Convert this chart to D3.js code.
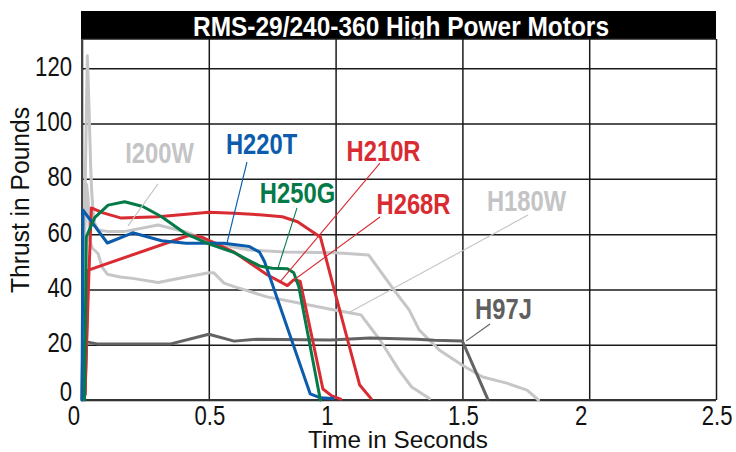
<!DOCTYPE html>
<html>
<head>
<meta charset="utf-8">
<script src="https://cdn.jsdelivr.net/npm/d3@7"></script>
<style>
  body { margin: 0; background: #fff; }
  svg { display: block; }
  text { font-family: "Liberation Sans", Arial, sans-serif; }
</style>
</head>
<body>
<div id="chart"></div>
<script>
// ticks
var xTicks = [0, 0.5, 1, 1.5, 2, 2.5];
var yTicks = [0, 20, 40, 60, 80, 100, 120];

// thrust curves, [seconds, pounds]
var i200w = [[0,0],[0.005,20],[0.013,80],[0.021,124.5],[0.028,105],[0.034,85],[0.038,76],[0.043,69],[0.05,64],
  [0.063,61.5],[0.1,61],[0.17,61],[0.3,63.3],[0.41,60.8],[0.5,57.5],[0.56,56],[0.66,54.3],[0.8,53.5],[1.0,53.3],
  [1.13,52.5],[1.23,39.8],[1.29,32.6],[1.33,25.3],[1.41,18],[1.5,12.6],[1.58,8.3],[1.675,6.1],[1.755,3.6],[1.8,0]];
var h180w = [[0,0],[0.01,60],[0.018,78],[0.024,73],[0.03,58],[0.04,55],[0.063,53],[0.08,48],[0.1,45.5],[0.15,44.5],
  [0.2,44],[0.3,42.5],[0.4,44.3],[0.5,46],[0.52,46],[0.56,42.3],[0.6,41],[0.73,37.3],[0.86,35],[1.0,32.5],[1.06,31.5],
  [1.1,30.8],[1.175,21.7],[1.25,10.8],[1.3,4.7],[1.37,0.5]];
var h97j = [[0,0],[0.003,21.3],[0.06,20.3],[0.35,20.3],[0.5,23.8],[0.6,21.3],[0.69,22],[0.98,21.7],[1.135,22.4],
  [1.32,22],[1.39,21.6],[1.5,21.3],[1.6,0.3]];
var h268r = [[0.012,2],[0.025,47],[0.42,59.5],[0.47,59],[0.6,53.5],[0.73,45.3],[0.81,41.4],[0.835,43.5],[0.86,43],
  [0.95,4],[0.985,1.5],[1.02,0.3]];
var h210r = [[0.012,2],[0.025,40],[0.037,69.5],[0.083,67.7],[0.155,65.8],[0.3,66.3],[0.5,67.9],[0.6,67.6],[0.7,67],
  [0.79,66.3],[0.85,64.5],[0.91,60.8],[0.94,59],[1.0,38],[1.095,5.4],[1.14,0.5]];
var h220t = [[0,0],[0.004,68.7],[0.1,56.8],[0.2,60.5],[0.314,57.6],[0.41,56.7],[0.56,56.7],[0.66,55.5],[0.7,53.5],
  [0.72,50],[0.9,2.2],[0.94,0.8],[0.99,0.5]];
var h250g = [[0.01,0],[0.017,59],[0.05,66],[0.103,70.5],[0.168,71.7],[0.24,70],[0.314,66.3],[0.406,60.3],[0.5,56.5],
  [0.6,53.3],[0.7,48.5],[0.75,47.7],[0.81,47.5],[0.835,46],[0.855,41],[0.94,0]];

var motors = [
  {name: 'I200W', data: i200w, color: '#c6c6c8'},
  {name: 'H180W', data: h180w, color: '#c6c6c8'},
  {name: 'H97J',  data: h97j,  color: '#636363'},
  {name: 'H268R', data: h268r, color: '#d92b32'},
  {name: 'H210R', data: h210r, color: '#d92b32'},
  {name: 'H220T', data: h220t, color: '#0b5cad'},
  {name: 'H250G', data: h250g, color: '#047a48'}
];

// name labels: label centre and leader line, in data units
var notes = [
  {name: 'I200W', at: [0.3056, 89.5], from: [0.2997, 78.2], to: [0.1814, 63.0], color: '#c4c4c6'},
  {name: 'H220T', at: [0.708, 92.8],  from: [0.6506, 86.1], to: [0.5718, 56.8], color: '#0b5cad'},
  {name: 'H210R', at: [1.189, 90.1],  from: [1.175, 85.7],  to: [0.7808, 42.7], color: '#d92b32'},
  {name: 'H250G', at: [0.8498, 75.1], from: [0.8478, 69.5], to: [0.7729, 47.8], color: '#047a48'},
  {name: 'H268R', at: [1.3072, 70.9], from: [1.1751, 66.2], to: [0.8084, 41.6], color: '#d92b32'},
  {name: 'H180W', at: [1.7528, 72.2], from: [1.7587, 66.9], to: [1.0568, 31.8], color: '#c4c4c6'},
  {name: 'H97J',  at: [1.662, 33.1],  from: [1.6088, 27.5], to: [1.5142, 21.3], color: '#5f5f5f'}
];

var width = 736;
var height = 452;
var plotL = 82, plotR = 716, plotT = 39, plotB = 400;
var squeeze = 0.82; // condensed look from Liberation Sans

var svg = d3.select('#chart')
  .append('svg')
  .attr('width', width)
  .attr('height', height);

var x = d3.scaleLinear().domain([0, 2.5]).range([plotL, plotR]);
var y = d3.scaleLinear().domain([0, 120]).range([plotB, 68.3]);

function narrowText(g, px, py, str) {
  return g.append('text')
    .attr('transform', 'translate(' + px + ',' + py + ') scale(' + squeeze + ',1)')
    .text(str);
}

// title bar
svg.append('rect')
  .attr('x', plotL - 1).attr('y', 11)
  .attr('width', plotR - plotL + 1).attr('height', plotT - 11)
  .attr('fill', '#000');
svg.append('text')
  .attr('x', (plotL + plotR) / 2 + 2)
  .attr('y', 35.5)
  .attr('text-anchor', 'middle')
  .attr('fill', '#fff')
  .attr('font-weight', 'bold')
  .attr('font-size', 28)
  .attr('textLength', 416)
  .attr('lengthAdjust', 'spacingAndGlyphs')
  .text('RMS-29/240-360 High Power Motors');

// y axis with grid
var yAxis = svg.append('g')
  .attr('transform', 'translate(' + plotL + ',0)')
  .call(d3.axisLeft(y).tickValues(yTicks).tickSize(-(plotR - plotL)).tickFormat(''));
yAxis.select('.domain').remove();
yAxis.selectAll('line')
  .attr('stroke', '#1a1a1a')
  .attr('stroke-width', 1.5);
yAxis.selectAll('.tick').each(function(d) {
  narrowText(d3.select(this), -10, d === 0 ? 0 : 7, String(d))
    .attr('text-anchor', 'end')
    .attr('font-size', 27)
    .attr('fill', '#111');
});

// x axis with grid, labels lined up on the decimal point
var xAxis = svg.append('g')
  .attr('transform', 'translate(0,' + plotB + ')')
  .call(d3.axisBottom(x).tickValues(xTicks).tickSize(-(plotB - plotT)).tickFormat(''));
xAxis.select('.domain').remove();
xAxis.selectAll('line')
  .attr('stroke', '#1a1a1a')
  .attr('stroke-width', 1.5);
xAxis.selectAll('.tick').each(function(d) {
  var g = d3.select(this);
  var intPart = String(d).split('.')[0];
  var t = narrowText(g, 0, 25, intPart)
    .attr('text-anchor', 'start')
    .attr('font-size', 27)
    .attr('fill', '#111');
  var w = t.node().getComputedTextLength() * squeeze;
  t.attr('transform', 'translate(' + (-2.5 - w) + ',25) scale(' + squeeze + ',1)')
    .text(String(d));
});

// frame
svg.append('line')
  .attr('x1', plotL).attr('x2', plotR).attr('y1', plotT).attr('y2', plotT)
  .attr('stroke', '#1a1a1a').attr('stroke-width', 1.5);
svg.append('line')
  .attr('x1', plotL).attr('x2', plotR).attr('y1', plotB).attr('y2', plotB)
  .attr('stroke', '#333').attr('stroke-width', 2);
svg.append('line')
  .attr('x1', plotL).attr('x2', plotL).attr('y1', plotT).attr('y2', plotB)
  .attr('stroke', '#444').attr('stroke-width', 2);

// axis titles
svg.append('text')
  .attr('x', 398).attr('y', 448)
  .attr('text-anchor', 'middle')
  .attr('font-size', 24)
  .attr('fill', '#111')
  .attr('textLength', 180)
  .attr('lengthAdjust', 'spacingAndGlyphs')
  .text('Time in Seconds');
svg.append('text')
  .attr('transform', 'translate(29,200) rotate(-90)')
  .attr('text-anchor', 'middle')
  .attr('font-size', 25)
  .attr('fill', '#111')
  .attr('textLength', 186)
  .attr('lengthAdjust', 'spacingAndGlyphs')
  .text('Thrust in Pounds');

// curves
var line = d3.line()
  .x((d) => x(d[0]))
  .y((d) => y(d[1]));

svg.append('g')
  .selectAll('path')
  .data(motors)
  .enter()
  .append('path')
  .attr('d', (d) => line(d.data))
  .attr('fill', 'none')
  .attr('stroke', (d) => d.color)
  .attr('stroke-width', 3)
  .attr('stroke-linejoin', 'round')
  .attr('stroke-linecap', 'round');

// leader lines and names
svg.append('g')
  .selectAll('line')
  .data(notes)
  .enter()
  .append('line')
  .attr('x1', (d) => x(d.from[0])).attr('y1', (d) => y(d.from[1]))
  .attr('x2', (d) => x(d.to[0])).attr('y2', (d) => y(d.to[1]))
  .attr('stroke', (d) => d.color)
  .attr('stroke-width', 1.1);

var nameLayer = svg.append('g');
notes.forEach(function(d) {
  narrowText(nameLayer, x(d.at[0]), y(d.at[1]), d.name)
    .attr('dy', '0.36em')
    .attr('text-anchor', 'middle')
    .attr('font-size', 29)
    .attr('font-weight', 'bold')
    .attr('fill', d.color);
});
</script>
</body>
</html>
